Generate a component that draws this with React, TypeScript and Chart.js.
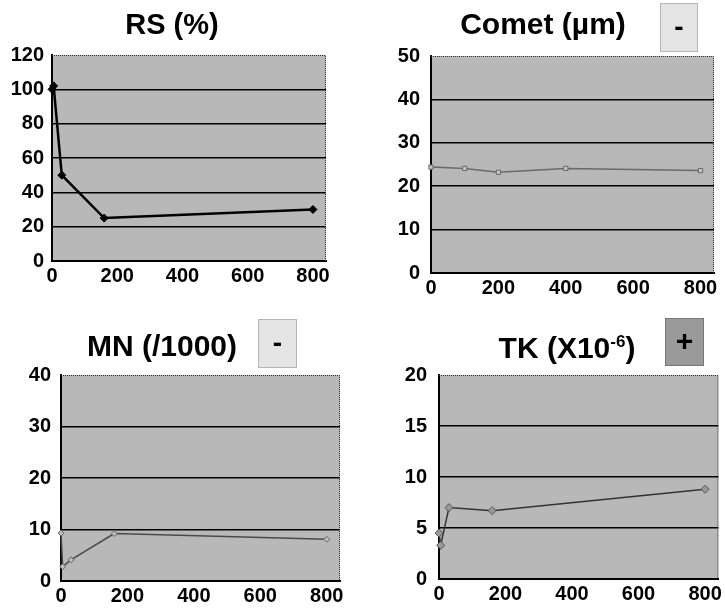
import React, { useEffect, useRef } from "react";
import { Chart, registerables } from "chart.js";
Chart.register(...registerables);

// ---- data ----
const RS_DOSE = [0, 5, 30, 160, 800];
const RS_VALUES = [100, 102, 50, 25, 30];
const COMET_DOSE = [0, 100, 200, 400, 800];
const COMET_VALUES = [24.4, 24.1, 23.2, 24.1, 23.6];
const MN_DOSE = [0, 5, 30, 160, 800];
const MN_VALUES = [9.3, 2.8, 4.1, 9.2, 8.1];
const TK_DOSE = [0, 5, 30, 160, 800];
const TK_VALUES = [4.5, 3.3, 7.0, 6.7, 8.8];
const X_TICKS = [0, 200, 400, 600, 800];
const RS_Y_TICKS = [0, 20, 40, 60, 80, 100, 120];
const COMET_Y_TICKS = [0, 10, 20, 30, 40, 50];
const MN_Y_TICKS = [0, 10, 20, 30, 40];
const TK_Y_TICKS = [0, 5, 10, 15, 20];

const FONT = '"Liberation Sans", Arial, sans-serif';

const decoPlugin = {
  id: "deco",
  beforeDraw(chart: any, _args: any, opts: any) {
    const { ctx, chartArea: a } = chart;
    ctx.save();
    ctx.fillStyle = opts.bg || "#b8b8b8";
    ctx.fillRect(a.left, a.top, a.right - a.left, a.bottom - a.top);
    ctx.restore();
  },
  beforeDatasetsDraw(chart: any) {
    const { ctx, chartArea: a } = chart;
    ctx.save();
    ctx.strokeStyle = "#333";
    ctx.lineWidth = 1;
    ctx.setLineDash([1, 1]);
    ctx.beginPath();
    ctx.moveTo(a.left, a.top + 0.5);
    ctx.lineTo(a.right - 0.5, a.top + 0.5);
    ctx.lineTo(a.right - 0.5, a.bottom);
    ctx.stroke();
    ctx.restore();
  },
  afterDraw(chart: any, _args: any, opts: any) {
    const { ctx } = chart;
    ctx.save();
    ctx.fillStyle = "#000";
    ctx.textBaseline = "alphabetic";
    ctx.textAlign = "left";
    const main = `bold ${opts.titleSize}px ${FONT}`;
    const sup = `bold ${Math.round(opts.titleSize * 0.55)}px ${FONT}`;
    ctx.font = main;
    const w1 = ctx.measureText(opts.title).width;
    let w2 = 0, w3 = 0;
    if (opts.sup) {
      ctx.font = sup;
      w2 = ctx.measureText(opts.sup).width;
      ctx.font = main;
      w3 = ctx.measureText(opts.tail).width;
    }
    let x = opts.titleX - (w1 + w2 + w3) / 2;
    ctx.font = main;
    ctx.fillText(opts.title, x, opts.baseline);
    if (opts.sup) {
      x += w1;
      ctx.font = sup;
      ctx.fillText(opts.sup, x, opts.baseline - opts.titleSize * 0.38);
      x += w2;
      ctx.font = main;
      ctx.fillText(opts.tail, x, opts.baseline);
    }
    if (opts.box) {
      const b = opts.box;
      ctx.fillStyle = b.fill;
      ctx.fillRect(b.x, b.y, b.w, b.h);
      ctx.strokeStyle = b.stroke;
      ctx.lineWidth = 1;
      ctx.setLineDash([1, 1]);
      ctx.strokeRect(b.x + 0.5, b.y + 0.5, b.w - 1, b.h - 1);
      ctx.setLineDash([]);
      ctx.fillStyle = "#000";
      ctx.textAlign = "center";
      ctx.textBaseline = "middle";
      ctx.font = `bold ${b.size}px ${FONT}`;
      ctx.fillText(b.symbol, b.x + b.w / 2, b.y + b.h / 2 + 1);
    }
    ctx.restore();
  },
};

interface PanelCfg {
  dose: number[];
  values: number[];
  yTicks: number[];
  left: number; top: number; width: number; height: number;
  area: { l: number; t: number; r: number; b: number };
  yPad: number;
  line: { color: string; width: number; point: string; pointFill: string; pointStroke: string; radius: number };
  deco: any;
}

const PANELS: PanelCfg[] = [
  {
    dose: RS_DOSE, values: RS_VALUES, yTicks: RS_Y_TICKS,
    left: 0, top: 0, width: 362, height: 306,
    area: { l: 52, t: 55, r: 326, b: 261 }, yPad: 8,
    line: { color: "#000", width: 2.5, point: "rectRot", pointFill: "#000", pointStroke: "#000", radius: 4 },
    deco: { title: "RS (%)", titleX: 172, baseline: 34, titleSize: 29 },
  },
  {
    dose: COMET_DOSE, values: COMET_VALUES, yTicks: COMET_Y_TICKS,
    left: 362, top: 0, width: 363, height: 306,
    area: { l: 69, t: 56, r: 352, b: 273 }, yPad: 11,
    line: { color: "#6a6a6a", width: 1.5, point: "rect", pointFill: "#c8c8c8", pointStroke: "#666", radius: 3 },
    deco: {
      title: "Comet (µm)", titleX: 181, baseline: 34, titleSize: 30,
      box: { x: 298, y: 3, w: 38, h: 49, fill: "#e4e4e4", stroke: "#888", symbol: "-", size: 28 },
    },
  },
  {
    dose: MN_DOSE, values: MN_VALUES, yTicks: MN_Y_TICKS,
    left: 0, top: 306, width: 362, height: 307,
    area: { l: 61, t: 69, r: 340, b: 275 }, yPad: 10,
    line: { color: "#4a4a4a", width: 1.5, point: "rectRot", pointFill: "#bbb", pointStroke: "#666", radius: 3 },
    deco: {
      title: "MN (/1000)", titleX: 162, baseline: 50, titleSize: 30,
      box: { x: 258, y: 13, w: 39, h: 49, fill: "#e4e4e4", stroke: "#888", symbol: "-", size: 28 },
    },
  },
  {
    dose: TK_DOSE, values: TK_VALUES, yTicks: TK_Y_TICKS,
    left: 362, top: 306, width: 363, height: 307,
    area: { l: 77, t: 69, r: 358, b: 273 }, yPad: 12,
    line: { color: "#333", width: 1.5, point: "rectRot", pointFill: "#999", pointStroke: "#555", radius: 4 },
    deco: {
      title: "TK (X10", sup: "-6", tail: ")", titleX: 205, baseline: 52, titleSize: 30,
      box: { x: 303, y: 12, w: 39, h: 48, fill: "#9a9a9a", stroke: "#555", symbol: "+", size: 30 },
    },
  },
];

function makeChart(canvas: HTMLCanvasElement, p: PanelCfg) {
  const yMax = p.yTicks[p.yTicks.length - 1];
  const tickFont = { family: FONT, size: 20, weight: "bold" as const };
  return new Chart(canvas, {
    type: "line",
    data: {
      datasets: [
        {
          data: p.dose.map((d, i) => ({ x: d, y: p.values[i] })),
          borderColor: p.line.color,
          borderWidth: p.line.width,
          pointStyle: p.line.point,
          pointRadius: p.line.radius,
          pointBackgroundColor: p.line.pointFill,
          pointBorderColor: p.line.pointStroke,
          pointBorderWidth: 1,
          tension: 0,
          fill: false,
          clip: 6,
        },
      ],
    },
    options: {
      responsive: false,
      animation: false,
      devicePixelRatio: 1,
      layout: { padding: { left: 0, top: p.area.t, right: p.width - p.area.r, bottom: 0 } },
      scales: {
        x: {
          type: "linear",
          min: 0,
          max: 840,
          afterBuildTicks: (s: any) => { s.ticks = X_TICKS.map((v) => ({ value: v })); },
          afterFit: (s: any) => { s.height = p.height - p.area.b; },
          grid: { display: false, drawTicks: false },
          border: { display: true, color: "#000", width: 2 },
          ticks: { color: "#000", font: tickFont, padding: 3, maxRotation: 0, autoSkip: false },
        },
        y: {
          type: "linear",
          min: 0,
          max: yMax,
          afterBuildTicks: (s: any) => { s.ticks = p.yTicks.map((v) => ({ value: v })); },
          afterFit: (s: any) => { s.width = p.area.l; },
          grid: {
            drawTicks: false,
            color: (c: any) => (c.tick && c.tick.value === yMax ? "rgba(0,0,0,0)" : "#000"),
            lineWidth: 1.5,
          },
          border: { display: true, color: "#000", width: 2 },
          ticks: { color: "#000", font: tickFont, padding: p.yPad, autoSkip: false },
        },
      },
      plugins: {
        legend: { display: false },
        tooltip: { enabled: false },
        title: { display: false },
        deco: p.deco,
      } as any,
    },
    plugins: [decoPlugin as any],
  });
}

export default function App() {
  const refs = useRef<(HTMLCanvasElement | null)[]>([]);
  useEffect(() => {
    const charts = PANELS.map((p, i) => makeChart(refs.current[i]!, p));
    return () => charts.forEach((c) => c.destroy());
  }, []);
  return (
    <div style={{ position: "absolute", left: 0, top: 0, width: 725, height: 613, background: "#fff" }}>
      {PANELS.map((p, i) => (
        <canvas
          key={i}
          ref={(el) => { refs.current[i] = el; }}
          width={p.width}
          height={p.height}
          style={{ position: "absolute", left: p.left, top: p.top, width: p.width, height: p.height }}
        />
      ))}
    </div>
  );
}
